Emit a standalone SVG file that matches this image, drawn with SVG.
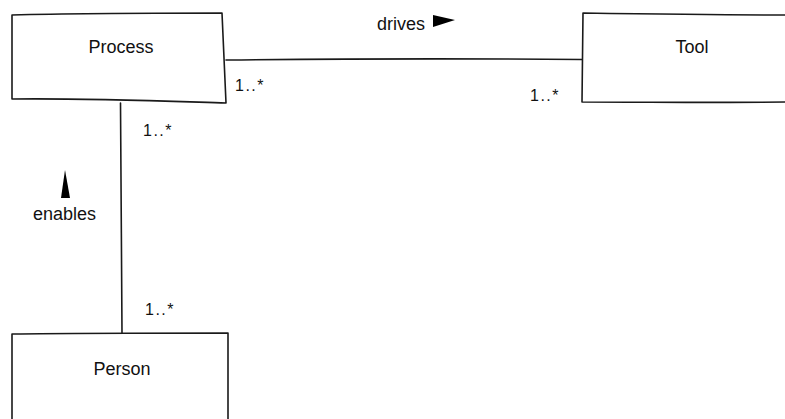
<svg xmlns="http://www.w3.org/2000/svg" width="785" height="419" viewBox="0 0 785 419">
  <style>
    .box { fill: #ffffff; stroke: #1a1a1a; stroke-width: 1.6; stroke-linejoin: round; }
    .edge { fill: none; stroke: #1a1a1a; stroke-width: 1.6; stroke-linecap: round; }
    .lbl { font-family: "Liberation Sans", "DejaVu Sans", sans-serif; font-size: 18px; fill: #111; }
    .mult { font-family: "Liberation Sans", "DejaVu Sans", sans-serif; font-size: 16px; letter-spacing: 1.5px; fill: #111; }
    .dir { fill: #000; }
  </style>
  <rect width="785" height="419" fill="#ffffff"/>

  <!-- associations -->
  <g id="connectors">
    <path class="edge" d="M226,60 C320,59 420,58 582,59.5"/>
    <path class="edge" d="M120.5,103 C121,170 121.5,260 122,333"/>
    <polygon class="dir" points="433,15 455,20 433,27"/>
    <polygon class="dir" points="65,170 70,198 61,198"/>
    <text class="lbl" x="377" y="30">drives</text>
    <text class="lbl" x="33" y="220">enables</text>
    <text class="mult" x="235" y="91">1..*</text>
    <text class="mult" x="530" y="101">1..*</text>
    <text class="mult" x="143" y="136">1..*</text>
    <text class="mult" x="145" y="315">1..*</text>
  </g>

  <g id="process">
    <path class="box" d="M12,15 C80,13 160,13 222,13 L226,103 C160,101 80,98 12,99 Z"/>
    <text class="lbl" x="121" y="53" text-anchor="middle">Process</text>
  </g>

  <g id="tool">
    <path class="box" d="M583,13 C650,14 720,15 790,15 L790,102 C720,103 650,102 582,102 Z"/>
    <text class="lbl" x="692" y="53" text-anchor="middle">Tool</text>
  </g>

  <g id="person">
    <path class="box" d="M12,334 C80,333 160,333 228,333 L228,425 L12,425 Z"/>
    <text class="lbl" x="122" y="375" text-anchor="middle">Person</text>
  </g>
</svg>
